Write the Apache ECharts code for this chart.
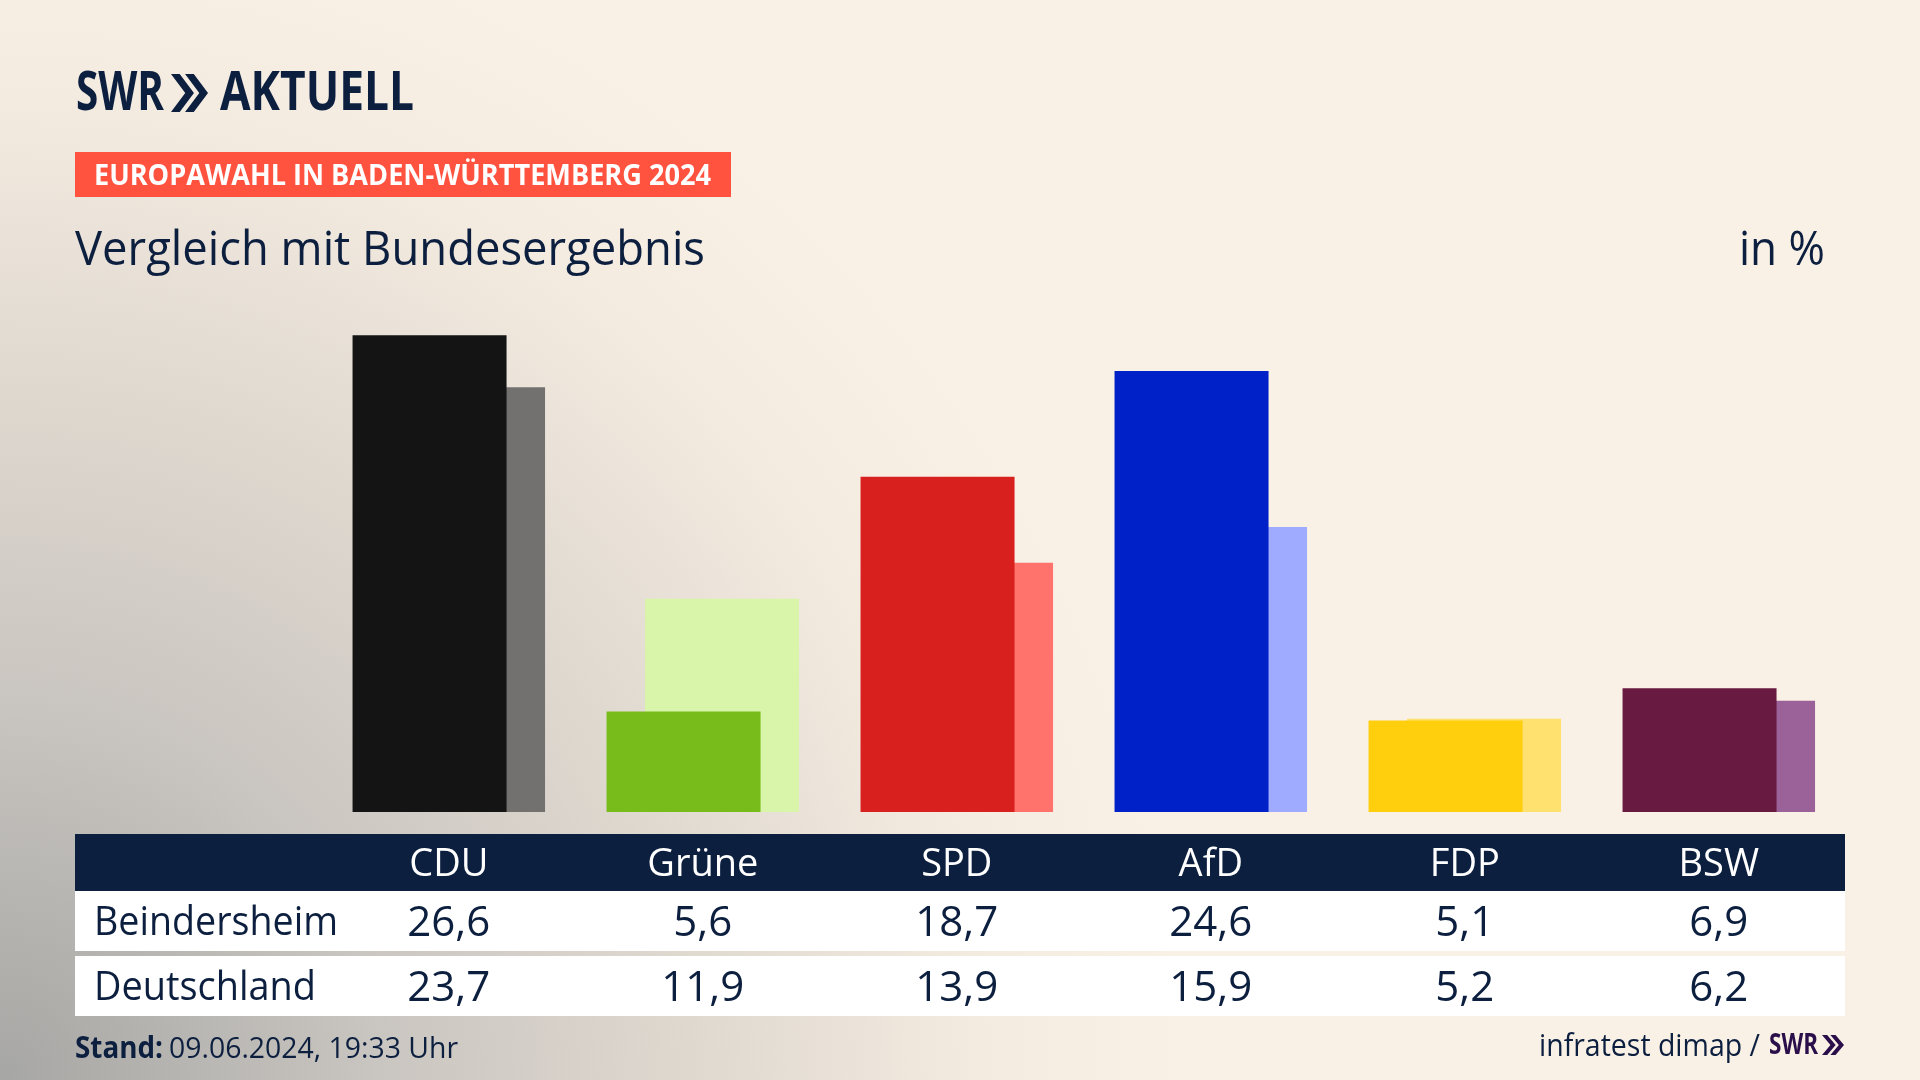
<!DOCTYPE html>
<html lang="de">
<head>
<meta charset="utf-8">
<title>Europawahl Vergleich</title>
<script src="https://cdn.jsdelivr.net/npm/echarts@6/dist/echarts.min.js"></script>
<style>
  html, body { margin: 0; padding: 0; }
  #chart {
    width: 1920px; height: 1080px;
    background: radial-gradient(circle 1350px at 0 1080px, #a6a6a4 0, #c9c5c0 28%, #e0d9d0 52%, #f5ece1 74%, #faf1e6 88%);
  }
</style>
</head>
<body>
<div id="chart"></div>
<script>
const INK = "#0c1f3f";
const FONT = "'Open Sans', sans-serif";

const parties = [
    { name: "CDU",   ort: 26.6, bund: 23.7, color: "#141414", light: "#72716f" },
    { name: "Grüne", ort: 5.6,  bund: 11.9, color: "#78bc1b", light: "#d8f5a9" },
    { name: "SPD",   ort: 18.7, bund: 13.9, color: "#d8201e", light: "#ff736c" },
    { name: "AfD",   ort: 24.6, bund: 15.9, color: "#0020c8", light: "#9eabff" },
    { name: "FDP",   ort: 5.1,  bund: 5.2,  color: "#ffce0c", light: "#ffe170" },
    { name: "BSW",   ort: 6.9,  bund: 6.2,  color: "#691a40", light: "#9b6199" }
];

const GRID_LEFT = 321.8, COL_W = 254;
const colX = i => GRID_LEFT + COL_W * (i + 0.5);
const fmt = v => v.toFixed(1).replace(".", ",");

const ctx = document.createElement("canvas").getContext("2d");
// text squeezed to the width it has in the picture (the original font is narrower)
function label(text, x, y, size, width, opts = {}) {
    const weight = opts.weight || "normal";
    ctx.font = `${weight} ${size}px 'Open Sans'`;
    const sx = width ? width / ctx.measureText(text).width : 1;
    return {
        type: "text", x, y, scaleX: sx, z: 10,
        style: {
            text, fill: opts.fill || INK, font: `${weight} ${size}px ${FONT}`,
            textAlign: opts.align || "left", textVerticalAlign: "middle"
        }
    };
}
function rect(x, y, width, height, fill) {
    return { type: "rect", shape: { x, y, width, height }, style: { fill }, z: 5 };
}
function chevrons(x, y, w, h, fill) {
    const cw = w * 0.62, shift = w - cw, notch = cw * 0.38;
    return [0, shift].map(dx => ({
        type: "polygon", z: 10, style: { fill },
        shape: { points: [
            [x + dx, y], [x + dx + notch, y], [x + dx + cw, y + h / 2],
            [x + dx + notch, y + h], [x + dx, y + h], [x + dx + cw - notch, y + h / 2]
        ] }
    }));
}

const graphics = [
    label("SWR", 76, 95, 53, 88, { weight: "bold" }),
    ...chevrons(171, 74, 37, 38, INK),
    label("AKTUELL", 220, 95, 53, 194, { weight: "bold" }),
    rect(75, 152, 656, 45, "#ff5340"),
    label("EUROPAWAHL IN BADEN-WÜRTTEMBERG 2024", 94, 177, 28, 617, { weight: "bold", fill: "#fff" }),
    label("Vergleich mit Bundesergebnis", 75, 252, 47, 630),
    label("in %", 1739, 252, 47, 86),
    rect(75, 834, 1770, 57, "#0c1f3f"),
    rect(75, 891, 1770, 60, "#fff"),
    rect(75, 956, 1770, 60, "#fff"),
    label("Beindersheim", 94, 924, 40, 244),
    label("Deutschland", 94, 989, 40, 222),
    label("Stand:", 75, 1049, 30, 88, { weight: "bold" }),
    label("09.06.2024, 19:33 Uhr", 169, 1049, 30, 289),
    label("infratest dimap /", 1539, 1047, 31, 221),
    label("SWR", 1769, 1046, 28, 49, { weight: "bold", fill: "#2a0f4a" }),
    ...chevrons(1822, 1035, 22, 20, "#2a0f4a")
];
parties.forEach((p, i) => {
    graphics.push(label(fmt(p.ort), colX(i), 924, 42, null, { align: "center" }));
    graphics.push(label(fmt(p.bund), colX(i), 989, 42, null, { align: "center" }));
});

const chart = echarts.init(document.getElementById("chart"));
chart.setOption({
    animation: false,
    grid: { left: GRID_LEFT, width: COL_W * 6, top: 274.2, bottom: 268 },
    xAxis: {
        type: "category",
        data: parties.map(p => p.name),
        axisLine: { show: false }, axisTick: { show: false },
        z: 10,
        axisLabel: { color: "#fff", fontSize: 38, fontFamily: FONT, margin: 31, lineHeight: 44 }
    },
    yAxis: { type: "value", min: 0, max: 30, show: false },
    series: [
        {
            name: "Beindersheim", type: "bar", barWidth: 154, barGap: "-75%", z: 3,
            data: parties.map(p => ({ value: p.ort, itemStyle: { color: p.color } }))
        },
        {
            name: "Deutschland", type: "bar", barWidth: 154, z: 2,
            data: parties.map(p => ({ value: p.bund, itemStyle: { color: p.light } }))
        }
    ],
    graphic: graphics
});
</script>
</body>
</html>
